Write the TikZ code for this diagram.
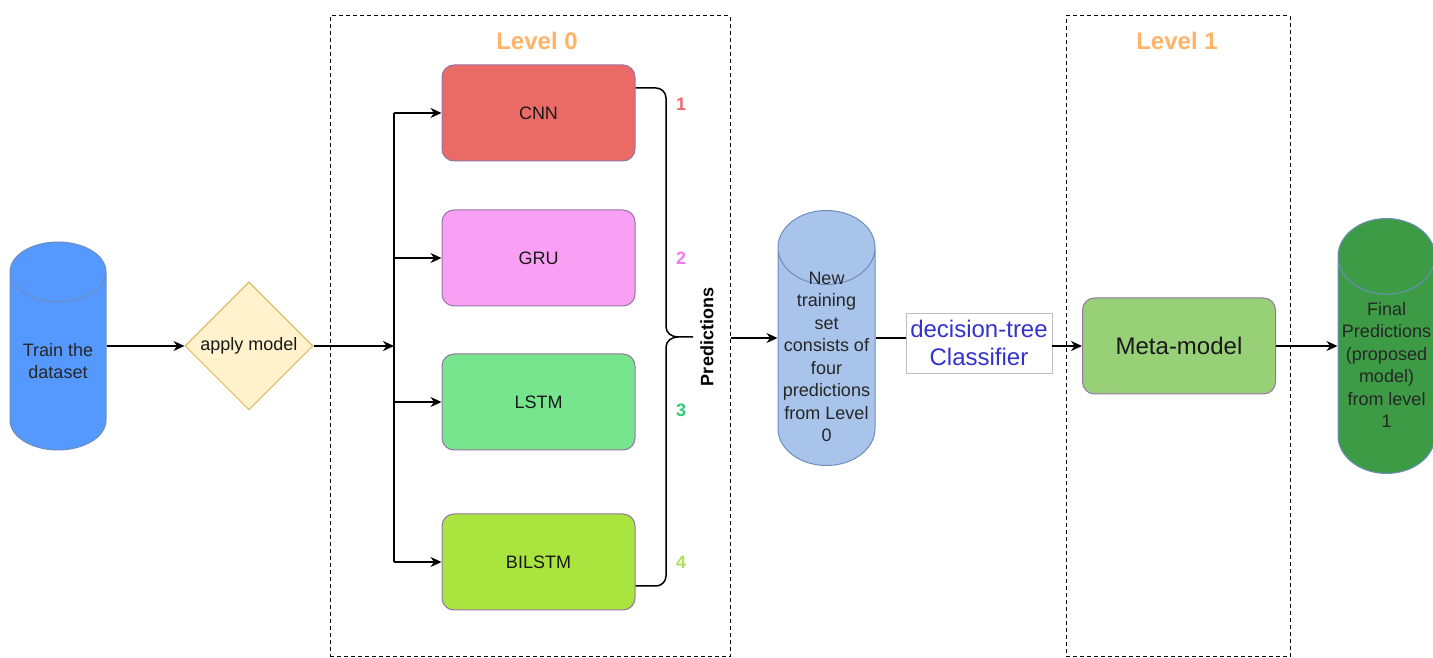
\documentclass[tikz,border=0pt]{standalone}
\usepackage{fontspec}
\setmainfont{Liberation Sans}
\usetikzlibrary{shapes.geometric,arrows.meta,calc}

\definecolor{trainblue}{HTML}{5599FF}
\definecolor{setblue}{HTML}{A9C4EB}
\definecolor{finalgreen}{HTML}{3D9B45}
\definecolor{cylline}{HTML}{6C8EBF}
\definecolor{boxline}{HTML}{9673A6}
\definecolor{cnnred}{HTML}{EA6B66}
\definecolor{grupink}{HTML}{F9A0F5}
\definecolor{lstmgreen}{HTML}{77E58E}
\definecolor{bilstmlime}{HTML}{A9E53E}
\definecolor{metagreen}{HTML}{97D077}
\definecolor{applyfill}{HTML}{FFF2CC}
\definecolor{applyline}{HTML}{D6B656}
\definecolor{levelorange}{HTML}{FFB366}
\definecolor{clfblue}{HTML}{3333CC}
\definecolor{numone}{HTML}{EE6A6F}
\definecolor{numtwo}{HTML}{F07CF0}
\definecolor{numthree}{HTML}{30CC72}
\definecolor{numfour}{HTML}{ADE05A}

\tikzset{
	model/.style={draw=boxline, line width=1pt, rounded corners=12pt, minimum width=193pt, minimum height=96pt, text=black!90, font=\fontsize{18}{22}\selectfont},
	store/.style={cylinder, shape border rotate=90, aspect=0.85, anchor=shape center, draw=cylline, line width=1pt, inner sep=0pt, inner ysep=-15pt, align=center, text=black!85, font=\fontsize{18}{22.5}\selectfont},
	frame/.style={draw, line width=1pt, dash pattern=on 4pt off 3pt},
	leveltext/.style={text=levelorange, font=\bfseries\fontsize{24}{28}\selectfont},
	wire/.style={line width=1.5pt},
	flow/.style={line width=1.5pt, -{Stealth[length=11pt, width=10pt, inset=3.5pt]}}
}

\begin{document}
\begin{tikzpicture}[x=1pt, y=1pt]
	\useasboundingbox (0,0) rectangle (1433,658);

	% Level frames
	\node[frame, minimum width=400pt, minimum height=641pt] (lvl0) at (530,321.5) {};
	\node[frame, minimum width=224pt, minimum height=641pt] (lvl1) at (1178,321.5) {};
	\node[leveltext] (lvl0title) at (537,617) {Level 0};
	\node[leveltext] (lvl1title) at (1177,617) {Level 1};

	% Input side
	\node[store, fill=trainblue, minimum width=96pt, minimum height=208pt] (train) at (58,312) {Train the\\dataset};
	\node[diamond, draw=applyline, fill=applyfill, line width=1pt, aspect=1, inner sep=0pt, minimum width=128pt, minimum height=128pt, text=black!90, font=\fontsize{18}{22}\selectfont] (apply) at (249,312) {apply model};

	% Level 0 models
	\node[model, fill=cnnred] (cnn) at (538.5,545) {CNN};
	\node[model, fill=grupink] (gru) at (538.5,400) {GRU};
	\node[model, fill=lstmgreen] (lstm) at (538.5,256) {LSTM};
	\node[model, fill=bilstmlime] (bilstm) at (538.5,96) {BILSTM};

	% Predictions brace
	\coordinate (bus) at (394,312);
	\coordinate (tip) at (693,321);
	\node[rotate=90, font=\bfseries\fontsize{18}{20}\selectfont] (pred) at (707,321) {Predictions};
	\foreach \n/\y/\c in {1/554/numone, 2/400/numtwo, 3/248/numthree, 4/96/numfour}
		\node[text=\c, font=\bfseries\fontsize{18}{20}\selectfont] (n\n) at (681,\y) {\n};

	% Level 1 side
	\node[store, fill=setblue, minimum width=97pt, minimum height=255pt] (newset) at (826.5,320) {New\\training\\set\\consists of\\four\\predictions\\from Level\\0};
	\node[draw=black!25, fill=white, inner sep=1pt, minimum width=146pt, minimum height=60pt, align=center, text=clfblue, font=\fontsize{24}{28}\selectfont] (clf) at (979,315) {decision-tree\\Classifier};
	\node[model, fill=metagreen, font=\fontsize{24}{28}\selectfont] (meta) at (1179,312) {Meta-model};
	\node[store, fill=finalgreen, minimum width=97pt, minimum height=255pt] (final) at (1386.5,312) {Final\\Predictions\\(proposed\\model)\\from level\\1};

	% Connecting lines
	\draw[flow] (apply -| train.east) -- (apply);
	\draw[flow] (apply) -- (bus);
	\draw[wire] (bus |- cnn) -- (bus |- bilstm);
	\foreach \m in {cnn,gru,lstm,bilstm}
		\draw[flow] (bus |- \m) -- (\m);
	\draw[wire] ($(cnn.east)+(0,25)$) -- (656,570) to[out=0,in=90] (666,560) -- (666,331) to[out=-90,in=180] (678,321) -- (tip);
	\draw[wire] ($(bilstm.east)+(0,-24)$) -- (656,72) to[out=0,in=-90] (666,82) -- (666,311) to[out=90,in=180] (678,321);
	\draw[flow] (lvl0.east |- newset.shape center) -- (newset.shape center -| newset.west);
	\draw[wire] (newset.shape center -| newset.east) -- (newset.shape center -| clf.west);
	\draw[flow] (clf.east |- meta) -- (meta);
	\draw[flow] (meta) -- (meta -| final.west);
\end{tikzpicture}
\end{document}
